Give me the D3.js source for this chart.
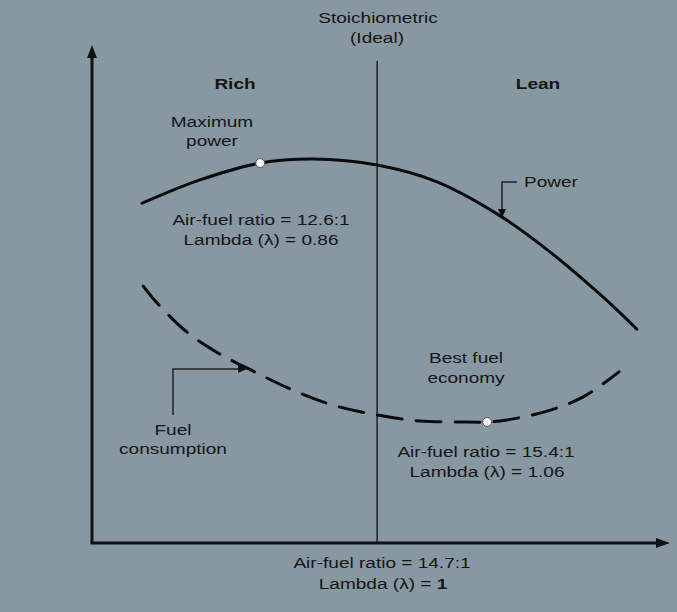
<!DOCTYPE html>
<html>
<head>
<meta charset="utf-8">
<script src="https://cdn.jsdelivr.net/npm/d3@7"></script>
<style>
  html, body { margin: 0; padding: 0; background: #8898a2; }
  svg { display: block; }
  text { font-family: "Liberation Sans", Arial, sans-serif; fill: #151515; }
</style>
</head>
<body>
<svg id="chart" width="677" height="612"></svg>
<script>
// ---- data (schematic units: x 0..100 along the air-fuel axis, y 0..100 up) ----
const powerX = [8.7, 18.75, 29.2, 38.4, 49.5, 59.9, 71.2, 79.5, 88.7, 94.6];
const powerY = [68.5, 73.2, 76.6, 77.4, 76.2, 72.8, 65.7, 58.7, 49.6, 43.1];

const fuelX = [8.9, 11.3, 16.5, 22.2, 28.6, 34.9, 41.8, 49.5, 56.9, 63.9, 68.6, 72.0, 79.0, 85.2, 91.5];
const fuelY = [51.8, 48.4, 42.5, 38.1, 34.3, 30.8, 27.8, 25.8, 24.6, 24.4, 24.4, 24.8, 26.6, 29.4, 34.5];

const stoichX = 49.5;                 // Lambda = 1 (14.7:1)
const markerNames = ["Maximum power", "Best fuel economy"];
const markerX = [29.2, 68.6];
const markerY = [76.6, 24.4];

const regionLabels = ["Rich", "Lean"];

// ---- setup ----
const svg = d3.select("#chart");
const x = d3.scaleLinear().domain([0, 100]).range([92, 668]);
const y = d3.scaleLinear().domain([0, 100]).range([543, 47]);
const SX = 1.27; // horizontal stretch of the reference typography

function label(txt, px, py, opts = {}) {
  const t = svg.append("text")
    .attr("transform", `translate(${px},${py}) scale(${SX},1)`)
    .attr("text-anchor", opts.anchor || "middle")
    .style("font-size", (opts.size || 15) + "px")
    .style("font-weight", opts.bold ? "bold" : "normal");
  if (Array.isArray(txt)) {
    txt.forEach(p => t.append("tspan").text(p.t).style("font-weight", p.bold ? "bold" : null));
  } else t.text(txt);
  return t;
}

// ---- axes with arrow heads ----
const x0 = x.range()[0], x1 = x.range()[1];
const y0 = y.range()[0], y1 = y.range()[1];
svg.append("path")
  .attr("d", `M${x0},${y0} V${y1 + 10}`)
  .attr("stroke", "#111").attr("stroke-width", 3).attr("fill", "none");
svg.append("path")
  .attr("d", `M${x0},${y1 - 2} L${x0 - 5},${y1 + 11} L${x0 + 5},${y1 + 11} Z`)
  .attr("fill", "#111");
svg.append("path")
  .attr("d", `M${x0 - 1.5},${y0} H${x1 - 8}`)
  .attr("stroke", "#111").attr("stroke-width", 3).attr("fill", "none");
svg.append("path")
  .attr("d", `M${x1 + 2},${y0} L${x1 - 12},${y0 - 5} L${x1 - 12},${y0 + 5} Z`)
  .attr("fill", "#111");

// ---- stoichiometric line ----
svg.append("line")
  .attr("x1", x(stoichX)).attr("x2", x(stoichX))
  .attr("y1", 61).attr("y2", y0)
  .attr("stroke", "#111").attr("stroke-width", 1.3);

// ---- curves ----
const line = d3.line().x(d => x(d[0])).y(d => y(d[1])).curve(d3.curveCatmullRom.alpha(0.5));

svg.append("path")
  .datum(powerX.map((v, i) => [v, powerY[i]]))
  .attr("d", line)
  .attr("fill", "none").attr("stroke", "#0a0a0a").attr("stroke-width", 3)
  .attr("stroke-linecap", "round");

svg.append("path")
  .datum(fuelX.map((v, i) => [v, fuelY[i]]))
  .attr("d", line)
  .attr("fill", "none").attr("stroke", "#0a0a0a").attr("stroke-width", 3)
  .attr("stroke-dasharray", "25,14").attr("stroke-linecap", "round");

// ---- marker dots ----
svg.selectAll("circle.mk")
  .data(markerNames.map((n, i) => ({ n, x: markerX[i], y: markerY[i] })))
  .join("circle").attr("class", "mk")
  .attr("cx", d => x(d.x)).attr("cy", d => y(d.y)).attr("r", 4.5)
  .attr("fill", "#f4f4f4").attr("stroke", "#555").attr("stroke-width", 1);

// ---- leaders ----
// Power leader
svg.append("path").attr("d", "M517,182 H502 V211")
  .attr("fill", "none").attr("stroke", "#222").attr("stroke-width", 1.5);
svg.append("path").attr("d", "M502,218 L498,209 L506,209 Z").attr("fill", "#111");
// Fuel consumption leader
svg.append("path").attr("d", "M173,415 V369 H239")
  .attr("fill", "none").attr("stroke", "#222").attr("stroke-width", 1.5);
svg.append("path").attr("d", "M247,369 L238,365 L238,373 Z").attr("fill", "#111");

// ---- text ----
label("Stoichiometric", 378, 23);
label("(Ideal)", 377, 43);
label(regionLabels[0], 235, 89, { bold: true });
label(regionLabels[1], 538, 89, { bold: true });

label("Maximum", 212, 127);
label("power", 212, 146);
label("Air-fuel ratio = 12.6:1", 261, 225);
label("Lambda (λ) = 0.86", 261, 245);

label("Power", 524, 187, { anchor: "start" });

label("Fuel", 173, 435);
label("consumption", 173, 454);

label("Best fuel", 466, 363);
label("economy", 466, 383);
label("Air-fuel ratio = 15.4:1", 486, 457);
label("Lambda (λ) = 1.06", 487, 477);

label("Air-fuel ratio = 14.7:1", 382, 568);
label([{ t: "Lambda (λ) = " }, { t: "1", bold: true }], 383, 589);
</script>
</body>
</html>
